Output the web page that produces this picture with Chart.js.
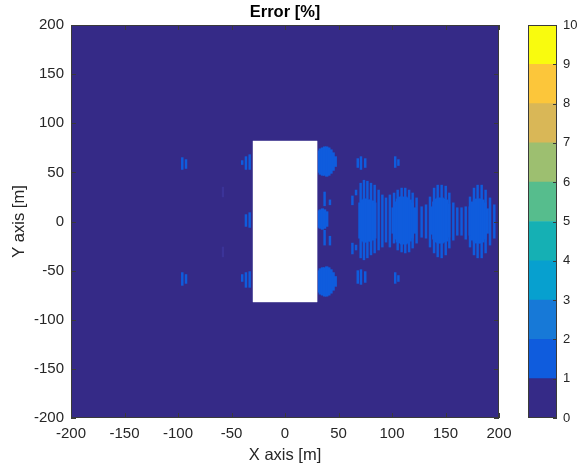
<!DOCTYPE html>
<html><head><meta charset="utf-8">
<script src="https://cdn.jsdelivr.net/npm/chart.js@4.4.1/dist/chart.umd.min.js"></script>
<style>
html,body{margin:0;padding:0;background:#fff;}
#wrap{position:relative;width:579px;height:468px;}
#main{position:absolute;left:0;top:0;}
#cbar{position:absolute;left:520px;top:0;}
</style></head><body>
<div id="wrap"><canvas id="main" width="579" height="468"></canvas><canvas id="cbar" width="59" height="468"></canvas></div>
<script>
const titleText = 'Error [%]';
const xLabel = 'X axis [m]';
const yLabel = 'Y axis [m]';
const axisTicks = [-200, -150, -100, -50, 0, 50, 100, 150, 200];
const cbTicks = [0, 1, 2, 3, 4, 5, 6, 7, 8, 9, 10];
const levelColors = ['#352a87', '#0f5cdd', '#1779d7', '#07a0cf', '#15b0b4', '#56bd8d', '#9dbf70', '#d9b757', '#fcc63a', '#f9fb0e'];

// white (no data) rectangle
const rectX = [-30, 30];
const rectY = [-82, 82];

// solid level 1-2 patches (columns)
const blobX  = [31, 33, 35, 37, 39, 41, 43, 45, 47,
                31, 33, 35, 37, 39,
                31, 33, 35, 37, 39, 41, 43, 45, 47,
                70, 72, 74, 76, 78, 80, 82, 84,
                101, 103, 105, 107, 109, 111, 113, 115, 117, 119, 121,
                137, 139, 141, 143, 145, 147, 149, 151, 153,
                173, 175, 177, 179, 181, 183, 185, 187, 189];
const blobLo = [50, 48, 47, 47, 46, 47, 49, 52, 56,
                -6, -7, -8, -7, -5,
                -72, -74, -75, -76, -76, -75, -73, -70, -66,
                -17, -20, -21, -21, -20, -20, -19, -17,
                -12, -18, -21, -22, -23, -23, -23, -22, -20, -17, -12,
                -13, -18, -21, -22, -22, -22, -21, -20, -16,
                -14, -19, -21, -22, -22, -22, -21, -18, -12];
const blobHi = [72, 74, 75, 76, 76, 75, 73, 70, 66,
                11, 12, 13, 12, 10,
                -50, -48, -47, -47, -46, -47, -49, -52, -56,
                19, 22, 23, 23, 22, 22, 21, 19,
                14, 20, 23, 25, 25, 25, 25, 24, 22, 19, 14,
                15, 20, 23, 24, 24, 24, 23, 22, 18,
                15, 20, 22, 23, 23, 23, 22, 19, 13];

// thin level 1-2 stripes
const stripeX  = [37, 42, 37, 42,
                  68, 71, 75, 68, 71, 75,
                  103, 106, 103, 106,
                  63, 63, 66.4, 66.4,
                  70.7, 73.8, 77, 80.4, 83.8, 87.5, 91, 94.4, 98, 101.9, 105.3, 109, 112.4, 116, 119.3, 123,
                  127.7, 131.8, 135.5, 139.3, 142.7, 146.4, 150.2, 153.6, 157.3, 161, 165, 168.9,
                  172.9, 176.6, 180, 183.8, 187.5, 191.6, 195.6,
                  -33, -36.5, -40, -33, -36.5, -33, -36.5, -40,
                  -96, -92.5, -96, -92.5];
const stripeLo = [16, 17, -24, -24,
                  55, 53, 55, -63, -64, -62,
                  55, 57, -63, -61,
                  17, -33, 27, -29,
                  -37, -39, -37, -34, -32, -29, -26, -21, -26, -22, -29, -31, -32, -31, -27, -22,
                  -16, -17, -26, -32, -36, -37, -34, -27, -19, -14, -14, -18,
                  -26, -34, -37, -37, -32, -24, -17,
                  53, 53, 58, -6, -5, -67, -67, -61,
                  53, 54, -65, -63];
const stripeHi = [30, 22, -9, -15,
                  64, 66, 64, -50, -49, -51,
                  66, 63, -52, -55,
                  26, -22, 32, -24,
                  39, 42, 41, 39, 37, 32, 27, 24, 27, 29, 32, 34, 34, 32, 29, 24,
                  15, 17, 25, 34, 37, 37, 36, 29, 19, 14, 14, 15,
                  25, 34, 37, 37, 32, 24, 17,
                  68, 66, 62, 9, 7, -51, -52, -54,
                  65, 63, -52, -54];

// barely visible stripes
const faintX  = [-58, -58];
const faintLo = [25, -36];
const faintHi = [35, -26];

const FONT = "'Liberation Sans', Arial, sans-serif";
const TXT = '#262626';
const toBars = (xs, lo, hi) => xs.map((x, i) => ({x: x, y: [lo[i], hi[i]]}));

const framePlugin = {
  id: 'frame',
  beforeDatasetsDraw(chart) {
    const {ctx, chartArea: a} = chart;
    ctx.save();
    ctx.fillStyle = levelColors[0];
    ctx.fillRect(a.left, a.top, a.width, a.height);
    ctx.restore();
  },
  afterDraw(chart) {
    const {ctx, chartArea: a, scales} = chart;
    ctx.save();
    ctx.strokeStyle = '#3a3a3a';
    ctx.lineWidth = 1;
    ctx.strokeRect(a.left + 0.5, a.top + 0.5, a.width - 1, a.height - 1);
    const L = 5;
    ctx.beginPath();
    scales.x.ticks.forEach(t => {
      const p = Math.round(scales.x.getPixelForValue(t.value)) + 0.5;
      ctx.moveTo(p, a.bottom); ctx.lineTo(p, a.bottom - L);
      ctx.moveTo(p, a.top); ctx.lineTo(p, a.top + L);
    });
    scales.y.ticks.forEach(t => {
      const p = Math.round(scales.y.getPixelForValue(t.value)) + 0.5;
      ctx.moveTo(a.left, p); ctx.lineTo(a.left + L, p);
      ctx.moveTo(a.right, p); ctx.lineTo(a.right - L, p);
    });
    ctx.stroke();
    ctx.restore();
  }
};

new Chart(document.getElementById('main'), {
  type: 'bar',
  data: {
    datasets: [
      {type: 'line', data: [{x: rectX[0], y: rectY[1]}, {x: rectX[1], y: rectY[1]}], fill: '+1',
       backgroundColor: '#ffffff', borderWidth: 0, pointRadius: 0, order: 0},
      {type: 'line', data: [{x: rectX[0], y: rectY[0]}, {x: rectX[1], y: rectY[0]}], fill: false,
       borderWidth: 0, pointRadius: 0, order: 0},
      {type: 'line', data: [{x: rectX[0], y: rectY[0]}, {x: rectX[0], y: rectY[1]}, {x: rectX[1], y: rectY[1]}, {x: rectX[1], y: rectY[0]}, {x: rectX[0], y: rectY[0]}],
       fill: false, borderColor: '#7e7ab4', borderWidth: 1, pointRadius: 0, order: 0},
      {type: 'bar', data: toBars(blobX, blobLo, blobHi), backgroundColor: levelColors[1], barThickness: 2.6, grouped: false, borderWidth: 0, order: 1},
      {type: 'bar', data: toBars(stripeX, stripeLo, stripeHi), backgroundColor: levelColors[1], barThickness: 1.8, grouped: false, borderWidth: 0, order: 2},
      {type: 'bar', data: toBars(faintX, faintLo, faintHi), backgroundColor: '#3b3398', barThickness: 1.5, grouped: false, borderWidth: 0, order: 3}
    ]
  },
  options: {
    responsive: false,
    animation: false,
    layout: {padding: {left: 0, right: 80, top: 0, bottom: 0}},
    plugins: {
      legend: {display: false},
      tooltip: {enabled: false},
      title: {display: true, text: titleText, fullSize: false, color: '#000', font: {family: FONT, size: 16.5, weight: 'bold'}, padding: {top: 3, bottom: 2.2}}
    },
    scales: {
      x: {
        type: 'linear', min: -200, max: 200, offset: false,
        grid: {display: false, drawTicks: false, offset: false}, border: {display: false},
        ticks: {color: TXT, font: {family: FONT, size: 15}, padding: 7, maxRotation: 0, autoSkip: false},
        afterBuildTicks: s => { s.ticks = axisTicks.map(v => ({value: v})); },
        afterFit: s => { s.height = 50; },
        title: {display: true, text: xLabel, color: TXT, font: {family: FONT, size: 16.5}, padding: {top: 3, bottom: 3}}
      },
      y: {
        type: 'linear', min: -200, max: 200,
        grid: {display: false, drawTicks: false}, border: {display: false},
        ticks: {color: TXT, font: {family: FONT, size: 15}, padding: 7},
        afterBuildTicks: s => { s.ticks = axisTicks.map(v => ({value: v})); },
        afterFit: s => { s.width = 71; },
        title: {display: true, text: yLabel, color: TXT, font: {family: FONT, size: 16.5}, padding: {top: 10, bottom: 10}}
      }
    }
  },
  plugins: [framePlugin]
});

const cbFrame = {
  id: 'cbFrame',
  afterDraw(chart) {
    const {ctx, chartArea: a, scales} = chart;
    ctx.save();
    ctx.strokeStyle = '#3a3a3a';
    ctx.lineWidth = 1;
    ctx.strokeRect(a.left + 0.5, a.top + 0.5, a.width - 1, a.height - 1);
    ctx.beginPath();
    scales.y.ticks.forEach(t => {
      const p = Math.round(scales.y.getPixelForValue(t.value)) + 0.5;
      ctx.moveTo(a.right, p); ctx.lineTo(a.right - 4, p);
    });
    ctx.stroke();
    ctx.restore();
  }
};

new Chart(document.getElementById('cbar'), {
  type: 'bar',
  data: {
    labels: [''],
    datasets: levelColors.map((c, i) => ({
      data: [[cbTicks[i], cbTicks[i + 1]]], backgroundColor: c, barPercentage: 1, categoryPercentage: 1, grouped: false, borderWidth: 0
    }))
  },
  options: {
    responsive: false,
    animation: false,
    layout: {padding: {left: 8, right: 0, top: 25, bottom: 50}},
    plugins: {legend: {display: false}, tooltip: {enabled: false}},
    scales: {
      x: {display: false},
      y: {
        position: 'right', min: 0, max: 10,
        grid: {display: false, drawTicks: false}, border: {display: false},
        ticks: {stepSize: 1, color: TXT, font: {family: FONT, size: 13}, padding: 6},
        afterBuildTicks: s => { s.ticks = cbTicks.map(v => ({value: v})); },
        afterFit: s => { s.width = 22; }
      }
    }
  },
  plugins: [cbFrame]
});
</script>
</body></html>
